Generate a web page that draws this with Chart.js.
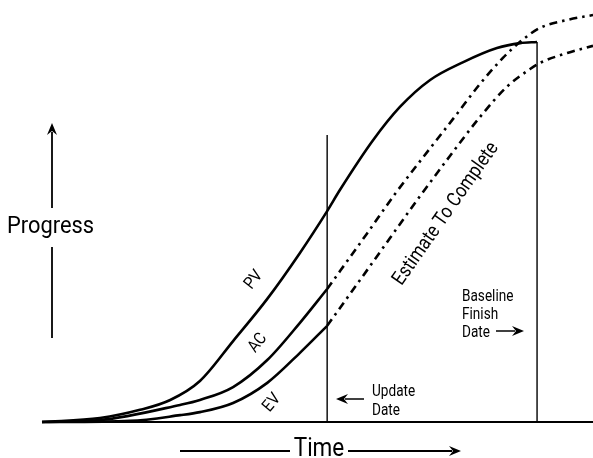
<!DOCTYPE html>
<html>
<head>
<meta charset="utf-8">
<script src="https://cdn.jsdelivr.net/npm/chart.js@4"></script>
<style>
  html, body { margin: 0; padding: 0; background: #fff; }
  #wrap { width: 593px; height: 458px; position: relative; }
</style>
</head>
<body>
<div id="wrap"><canvas id="graphique"></canvas></div>
<script>
// time (0 = start, 100 = baseline finish) / progress (0..100 = budget at completion)
var pvTime  = [0, 11.7, 19.8, 25.9, 31.9, 38.6, 45.5, 52.1, 57.6, 60.2, 66.9, 72.3, 78.4, 85.1, 91.9, 96.6, 100];
var pvValue = [0, 1.05, 3.2, 5.8, 10.8, 21.3, 32.4, 44.5, 55.5, 61.1, 74.2, 82.9, 90.0, 94.7, 98.4, 99.7, 100];

var acTime  = [0, 11.7, 27.9, 31.9, 38.6, 45.5, 52.1, 57.6];
var acValue = [0, 0.5, 4.5, 5.8, 9.2, 16.3, 26.1, 35.0];

var evTime  = [0, 17.8, 27.9, 31.9, 38.6, 45.5, 52.1, 57.6];
var evValue = [0, 0.3, 1.8, 2.6, 5.0, 10.3, 18.2, 25.3];

// estimate to complete, continuing AC and EV after the update date
var etcAcTime  = [57.6, 65.7, 71.3, 77.0, 83.0, 88.5, 93.1, 97.0, 100.6, 106.1, 111.3];
var etcAcValue = [35.0, 49.7, 60.0, 69.7, 79.7, 89.0, 95.8, 100.5, 103.7, 105.8, 107.1];

var etcEvTime  = [57.6, 66.9, 76.4, 82.4, 88.5, 93.9, 98.6, 100.6, 106.1, 111.3];
var etcEvValue = [25.3, 42.2, 59.5, 70.0, 80.3, 88.2, 92.9, 94.5, 97.1, 99.0];

var updateDate = 57.6;
var updateTop = 75.5;
var finishDate = 100;
var finishTop = 100;
var timeMax = 111.3;
var progressMax = 111.05;

var police = 'Roboto, "DejaVu Sans", sans-serif';

function points(xs, ys) {
  var pts = [];
  for (var i = 0; i < xs.length; i++) pts.push({ x: xs[i], y: ys[i] });
  return pts;
}

function courbe(xs, ys, dash) {
  return {
    data: points(xs, ys),
    borderColor: "#000",
    borderWidth: 2.6,
    borderDash: dash || [],
    pointRadius: 0,
    cubicInterpolationMode: "monotone",
    fill: false
  };
}

function trait(xs, ys, w) {
  return {
    data: points(xs, ys),
    borderColor: "#000",
    borderWidth: w,
    pointRadius: 0,
    tension: 0,
    fill: false
  };
}

function fleche(ctx, x1, y1, x2, y2) {
  var a = Math.atan2(y2 - y1, x2 - x1);
  var L = 12, W = 5;
  ctx.beginPath();
  ctx.moveTo(x1, y1);
  ctx.lineTo(x2 - Math.cos(a) * (L - 3), y2 - Math.sin(a) * (L - 3));
  ctx.stroke();
  ctx.beginPath();
  ctx.moveTo(x2, y2);
  ctx.lineTo(x2 - Math.cos(a) * L - Math.sin(a) * W, y2 - Math.sin(a) * L + Math.cos(a) * W);
  ctx.lineTo(x2 - Math.cos(a) * (L - 4), y2 - Math.sin(a) * (L - 4));
  ctx.lineTo(x2 - Math.cos(a) * L + Math.sin(a) * W, y2 - Math.sin(a) * L - Math.cos(a) * W);
  ctx.closePath();
  ctx.fill();
}

// text with a horizontal squeeze, to imitate the condensed face of the original
function texte(ctx, txt, x, y, taille, serre, align, angle) {
  ctx.save();
  ctx.translate(x, y);
  if (angle) ctx.rotate(angle * Math.PI / 180);
  ctx.scale(serre, 1);
  ctx.font = taille + "px " + police;
  ctx.textAlign = align || "left";
  ctx.textBaseline = angle ? "middle" : "alphabetic";
  ctx.fillText(txt, 0, 0);
  ctx.restore();
}

var annotations = {
  id: "annotations",
  afterDatasetsDraw: function(chart) {
    var ctx = chart.ctx;
    ctx.save();
    ctx.fillStyle = "#000";
    ctx.strokeStyle = "#000";
    ctx.lineWidth = 1.8;

    // Progress axis
    fleche(ctx, 52, 208, 52, 123);
    ctx.beginPath();
    ctx.moveTo(52, 247);
    ctx.lineTo(52, 338);
    ctx.stroke();
    texte(ctx, "Progress", 7, 233, 23, 0.95);

    // Time axis
    ctx.beginPath();
    ctx.moveTo(180, 451);
    ctx.lineTo(290, 451);
    ctx.stroke();
    fleche(ctx, 348, 451, 461, 451);
    texte(ctx, "Time", 319, 456, 25, 0.9, "center");

    // curve labels
    texte(ctx, "PV", 254, 280, 17, 0.88, "center", -52);
    texte(ctx, "AC", 258, 343, 17, 0.88, "center", -52);
    texte(ctx, "EV", 272, 403, 17, 0.88, "center", -50);
    texte(ctx, "Estimate To Complete", 446, 214, 20, 0.86, "center", -55);

    // date labels
    texte(ctx, "Baseline", 462, 301, 16, 0.85);
    texte(ctx, "Finish", 462, 319, 16, 0.85);
    texte(ctx, "Date", 462, 337, 16, 0.85);
    ctx.lineWidth = 1.5;
    fleche(ctx, 496, 331, 524, 331);
    texte(ctx, "Update", 372, 396, 16, 0.85);
    texte(ctx, "Date", 372, 415, 16, 0.85);
    fleche(ctx, 364, 399, 336, 399);
    ctx.restore();
  }
};

var ctx = document.getElementById("graphique").getContext("2d");
var chart = new Chart(ctx, {
  type: "line",
  data: {
    datasets: [
      trait([0, timeMax], [0, 0], 1.8),
      trait([updateDate, updateDate], [0, updateTop], 1.4),
      trait([finishDate, finishDate], [0, finishTop], 1.4),
      courbe(pvTime, pvValue),
      courbe(acTime, acValue),
      courbe(evTime, evValue),
      courbe(etcAcTime, etcAcValue, [8, 5, 2.5, 5]),
      courbe(etcEvTime, etcEvValue, [8, 5, 2.5, 5])
    ]
  },
  options: {
    responsive: true,
    maintainAspectRatio: false,
    animation: false,
    clip: false,
    layout: { padding: { left: 42, right: 0, top: 0, bottom: 36 } },
    plugins: { legend: { display: false }, tooltip: { enabled: false } },
    scales: {
      x: { type: "linear", min: 0, max: timeMax, display: false },
      y: { type: "linear", min: 0, max: progressMax, display: false }
    }
  },
  plugins: [annotations]
});
</script>
</body>
</html>
